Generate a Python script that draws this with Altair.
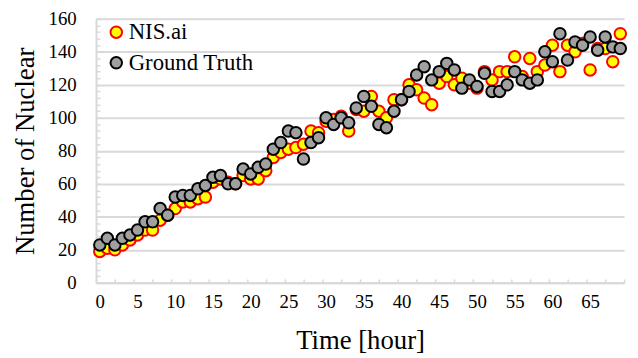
import altair as alt
import pandas as pd

hours = list(range(70))
nis_ai = [19, 21, 20, 23, 26, 29, 32, 32, 38, 41,
          45, 49, 49, 51, 52, 61, 63, 61, 60, 65,
          63, 63, 68, 76, 79, 81, 82, 84, 92, 91,
          98, 99, 101, 92, 105, 104, 113, 104, 100, 111,
          111, 120, 117, 112, 108, 121, 125, 120, 124, 121,
          118, 128, 123, 128, 128, 137, 125, 136, 128, 132,
          144, 128, 144, 140, 145, 129, 142, 142, 134, 151]
ground_truth = [23, 27, 23, 27, 29, 32, 37, 37, 45, 41,
                52, 53, 53, 57, 59, 64, 65, 60, 60, 69,
                66, 70, 72, 81, 85, 92, 91, 75, 85, 88,
                100, 96, 100, 97, 106, 113, 107, 96, 94, 104,
                111, 116, 126, 131, 123, 128, 133, 129, 118, 123,
                119, 127, 116, 116, 120, 128, 123, 121, 123, 140,
                134, 151, 135, 146, 144, 149, 141, 149, 143, 142]
series_names = ["NIS.ai", "Ground Truth"]
fill_colors = ["#FFFF00", "#A0A0A0"]
stroke_colors = ["#FF0000", "#000000"]
x_label_values = list(range(0, 70, 5))
x_tick_values = [-0.5 + 2.5 * k for k in range(29)]
y_label_values = list(range(0, 161, 20))
y_minor_values = list(range(0, 161, 4))

df = pd.DataFrame({
    "hour": hours * 2,
    "value": nis_ai + ground_truth,
    "series": [series_names[0]] * len(hours) + [series_names[1]] * len(hours),
})

W, H = 534, 267
FONT = "Times New Roman"
GRID = "#d9d9d9"

xs = alt.Scale(domain=[-0.5, 69.5], nice=False, zero=False)
ys = alt.Scale(domain=[0, 160], nice=False, zero=True)

legend = alt.Legend(title=None, orient="none", legendX=9, legendY=2,
                    labelFont=FONT, labelFontSize=23, labelColor="#000000",
                    symbolType="circle", symbolSize=135, symbolStrokeWidth=2,
                    rowPadding=7, labelOffset=1, padding=0)

points = alt.Chart(df).mark_point(shape="circle", filled=True, size=135,
                                  strokeWidth=2, opacity=1).encode(
    x=alt.X("hour:Q", scale=xs, axis=alt.Axis(
        values=x_label_values, title="Time [hour]", grid=False, ticks=False, tickSize=0,
        domain=True, domainColor=GRID, domainWidth=2,
        labelFont=FONT, labelFontSize=19, labelColor="#000000", labelPadding=10,
        titleFont=FONT, titleFontSize=27, titleFontWeight="normal", titleColor="#000000",
        titlePadding=16)),
    y=alt.Y("value:Q", scale=ys, axis=alt.Axis(
        values=y_label_values, title="Number of Nuclear", grid=True, gridColor=GRID,
        gridWidth=2, ticks=False, tickSize=0, domain=True, domainColor=GRID, domainWidth=2,
        labelFont=FONT, labelFontSize=19, labelColor="#000000", labelPadding=20,
        titleFont=FONT, titleFontSize=27, titleFontWeight="normal", titleColor="#000000",
        titlePadding=9)),
    fill=alt.Fill("series:N", scale=alt.Scale(domain=series_names, range=fill_colors),
                  legend=legend),
    stroke=alt.Stroke("series:N", scale=alt.Scale(domain=series_names, range=stroke_colors),
                      legend=legend),
)

tick_layer = alt.Chart(df).mark_point(opacity=0).encode(
    x=alt.X("hour:Q", scale=xs, axis=alt.Axis(
        orient="top", offset=-H, values=x_tick_values, labels=False, domain=False,
        grid=False, ticks=True, tickSize=4, tickColor=GRID, tickWidth=1.5, title=None)),
    y=alt.Y("value:Q", scale=ys, axis=alt.Axis(
        orient="right", offset=-W, values=y_minor_values, labels=False, domain=False,
        grid=False, ticks=True, tickSize=4, tickColor=GRID, tickWidth=1.5, title=None)),
)

chart = alt.layer(points, tick_layer).resolve_axis(
    x="independent", y="independent"
).properties(
    width=W, height=H,
    padding={"left": 3, "top": 0, "right": 0, "bottom": 0},
).configure(
    background="white", font=FONT
).configure_view(stroke=None).configure_axis(
    labelFont=FONT, titleFont=FONT
).configure_legend(labelFont=FONT)

chart.save("out.html", embed_options={"renderer": "svg", "actions": False})
